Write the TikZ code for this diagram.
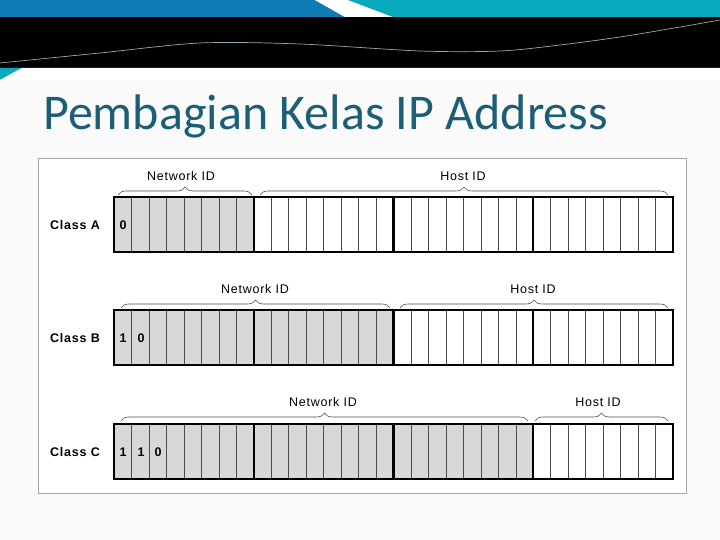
\documentclass[tikz,border=0pt]{standalone}
\usepackage{fontspec}
\setmainfont{Liberation Sans}
\newfontfamily\titlefont{Carlito}
\newfontfamily\diagfont[LetterSpace=6]{Liberation Sans}
\usetikzlibrary{decorations.pathreplacing}

\definecolor{slideblue}{RGB}{14,124,180}
\definecolor{slideteal}{RGB}{10,170,190}
\definecolor{titleteal}{RGB}{28,94,118}
\definecolor{wavegray}{RGB}{150,170,180}
\definecolor{pagegray}{RGB}{250,250,250}
\definecolor{bitgray}{RGB}{216,216,216}

\begin{document}
\begin{tikzpicture}[x=1pt,y=-1pt,
	bitline/.style={draw=gray!60!black, line width=0.6pt},
	byteline/.style={draw=black, line width=2.2pt},
	idbrace/.style={decorate, decoration={brace,amplitude=8pt}, draw=gray!60!black, line width=0.6pt},
	idlabel/.style={font=\diagfont\fontsize{12.5}{14}\selectfont, inner sep=0pt},
	classlabel/.style={font=\diagfont\bfseries\fontsize{12.5}{14}\selectfont, anchor=east, inner sep=0pt},
	bitlabel/.style={font=\diagfont\bfseries\fontsize{12.5}{14}\selectfont, inner sep=0pt}]
	
	\useasboundingbox (0,0) rectangle (720,540);
	\fill[pagegray] (0,0) rectangle (720,540);
	
	% header band
	\fill[slideblue] (0,0) -- (315,0) -- (345,17) -- (0,17) -- cycle;
	\fill[white] (315,0) -- (348,0) -- (393,17) -- (345,17) -- cycle;
	\fill[slideteal] (348,0) -- (720,0) -- (720,17) -- (393,17) -- cycle;
	\fill[black] (0,17) rectangle (720,68);
	\draw[wavegray, line width=0.7pt] plot[smooth] coordinates {(0,63) (100,53) (200,43) (300,44) (420,51) (500,51) (560,45) (620,37) (680,27) (720,20)};
	\fill[slideteal] (0,68) -- (22,68) -- (0,80) -- cycle;
	\fill[white] (0,80) -- (22,68) -- (720,68) -- (720,80) -- cycle;
	
	\node[anchor=base west, inner sep=0pt, text=titleteal, font=\titlefont\fontsize{50}{55}\selectfont] (title) at (43,130) {Pembagian Kelas IP Address};
	
	% frame
	\draw[gray!70, line width=0.8pt, fill=white] (38,158) rectangle (686,493);
	
	% bit rows
	\foreach \cls/\ytop/\nnet in {A/197/8, B/310/16, C/424/24}{
		\coordinate (row\cls) at (114,\ytop);
		\fill[bitgray] (114,\ytop) rectangle ({114+\nnet*17.47},{\ytop+55});
		\foreach \i in {1,...,31}
			\draw[bitline] ({114+\i*17.47},\ytop) -- ({114+\i*17.47},{\ytop+55});
		\foreach \i in {8,16,24}
			\draw[byteline] ({114+\i*17.47},\ytop) -- ({114+\i*17.47},{\ytop+55});
		\draw[black, line width=2.5pt] (114,\ytop) rectangle (673,{\ytop+55});
		\node[classlabel] (class\cls) at (100,{\ytop+28}) {Class \cls};
	}
	
	% leading bits
	\node[bitlabel] (bitA1) at (123,225) {0};
	\node[bitlabel] (bitB1) at (123,338) {1};
	\node[bitlabel] (bitB2) at (141,338) {0};
	\node[bitlabel] (bitC1) at (123,452) {1};
	\node[bitlabel] (bitC2) at (141,452) {1};
	\node[bitlabel] (bitC3) at (158,452) {0};
	
	% braces
	\coordinate (netAl) at (118,195);  \coordinate (netAr) at (252,195);
	\coordinate (hostAl) at (260,195); \coordinate (hostAr) at (668,195);
	\coordinate (netBl) at (121,308);  \coordinate (netBr) at (390,308);
	\coordinate (hostBl) at (400,308); \coordinate (hostBr) at (668,308);
	\coordinate (netCl) at (121,421);  \coordinate (netCr) at (528,421);
	\coordinate (hostCl) at (535,421); \coordinate (hostCr) at (668,421);
	
	\draw[idbrace] (netAl) -- (netAr);
	\draw[idbrace] (hostAl) -- (hostAr);
	\draw[idbrace] (netBl) -- (netBr);
	\draw[idbrace] (hostBl) -- (hostBr);
	\draw[idbrace] (netCl) -- (netCr);
	\draw[idbrace] (hostCl) -- (hostCr);
	
	\node[idlabel] (netA) at (181,176) {Network ID};
	\node[idlabel] (hostA) at (463,176) {Host ID};
	\node[idlabel] (netB) at (255,289) {Network ID};
	\node[idlabel] (hostB) at (533,289) {Host ID};
	\node[idlabel] (netC) at (323,402) {Network ID};
	\node[idlabel] (hostC) at (598,402) {Host ID};
	
\end{tikzpicture}
\end{document}
